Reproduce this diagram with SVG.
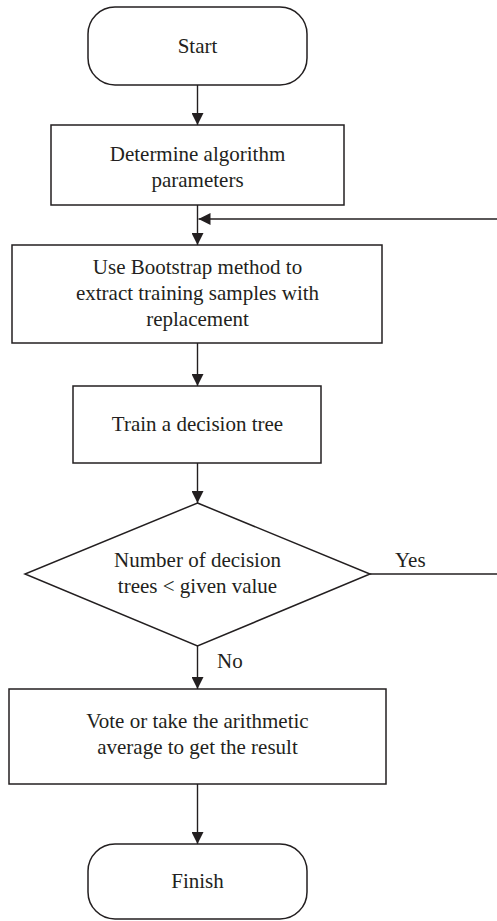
<svg xmlns="http://www.w3.org/2000/svg" width="497" height="921" viewBox="0 0 497 921">
  <style>
    .shape { fill: #ffffff; stroke: #231f20; stroke-width: 1.5; }
    .link { fill: none; stroke: #231f20; stroke-width: 1.4; }
    .lbl { font-family: "Liberation Serif", "Times New Roman", serif; font-size: 21px; fill: #231f20; text-anchor: middle; }
    .tag { font-family: "Liberation Serif", "Times New Roman", serif; font-size: 21px; fill: #231f20; }
  </style>
  <defs>
    <marker id="arrow" viewBox="0 0 12 12" refX="12" refY="6" markerWidth="12" markerHeight="12" markerUnits="userSpaceOnUse" orient="auto">
      <path d="M0,0 L12,6 L0,12 Z" fill="#231f20"/>
    </marker>
  </defs>
  <rect width="497" height="921" fill="#ffffff"/>

  <!-- connectors -->
  <g id="connectors">
    <line class="link" x1="197.5" y1="85" x2="197.5" y2="125" marker-end="url(#arrow)"/>
    <line class="link" x1="197.5" y1="205" x2="197.5" y2="245" marker-end="url(#arrow)"/>
    <line class="link" x1="497" y1="219" x2="198.5" y2="219" marker-end="url(#arrow)"/>
    <line class="link" x1="197.5" y1="343" x2="197.5" y2="386" marker-end="url(#arrow)"/>
    <line class="link" x1="197.5" y1="463" x2="197.5" y2="503" marker-end="url(#arrow)"/>
    <line class="link" x1="197.5" y1="646" x2="197.5" y2="689" marker-end="url(#arrow)"/>
    <line class="link" x1="197.5" y1="784" x2="197.5" y2="844" marker-end="url(#arrow)"/>
    <line class="link" x1="370" y1="574" x2="497" y2="574"/>
    <text class="tag" x="395" y="567">Yes</text>
    <text class="tag" x="217" y="668">No</text>
  </g>

  <!-- nodes -->
  <g id="start">
    <rect class="shape" x="88" y="7" width="219" height="78" rx="27" ry="27"/>
    <text class="lbl" x="197.5" y="53">Start</text>
  </g>

  <g id="params">
    <rect class="shape" x="51" y="125" width="293" height="80"/>
    <text class="lbl" x="197.5" y="161">Determine algorithm</text>
    <text class="lbl" x="197.5" y="187">parameters</text>
  </g>

  <g id="bootstrap">
    <rect class="shape" x="12" y="245" width="370" height="98"/>
    <text class="lbl" x="197.5" y="274">Use Bootstrap method to</text>
    <text class="lbl" x="197.5" y="300">extract training samples with</text>
    <text class="lbl" x="197.5" y="326">replacement</text>
  </g>

  <g id="train">
    <rect class="shape" x="73" y="386" width="248" height="77"/>
    <text class="lbl" x="197.5" y="431">Train a decision tree</text>
  </g>

  <g id="check">
    <polygon class="shape" points="197.5,503 370,574 197.5,646 25,574"/>
    <text class="lbl" x="197.5" y="567">Number of decision</text>
    <text class="lbl" x="197.5" y="593">trees &lt; given value</text>
  </g>

  <g id="aggregate">
    <rect class="shape" x="9" y="689" width="377" height="95"/>
    <text class="lbl" x="197.5" y="728">Vote or take the arithmetic</text>
    <text class="lbl" x="197.5" y="754">average to get the result</text>
  </g>

  <g id="finish">
    <rect class="shape" x="88" y="844" width="219" height="75" rx="27" ry="27"/>
    <text class="lbl" x="197.5" y="888">Finish</text>
  </g>
</svg>
